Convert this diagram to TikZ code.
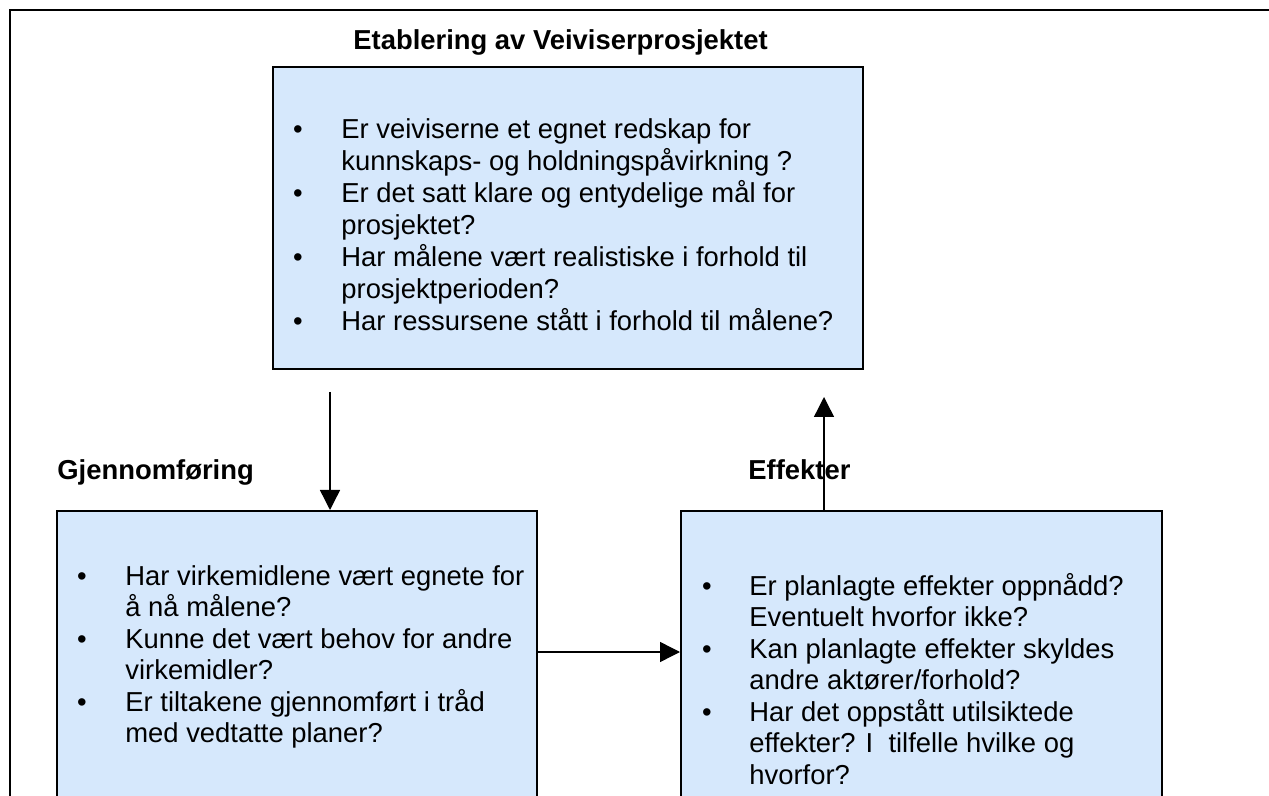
\documentclass[tikz,border=0pt]{standalone}
\usepackage{fontspec}
\setmainfont{Liberation Sans}
\usetikzlibrary{arrows.meta,calc}
\definecolor{boxblue}{RGB}{214,232,252}
\begin{document}
\begin{tikzpicture}[x=0.5pt,y=-0.5pt,
  frame/.style={line width=1pt,draw=black},
  qbox/.style={draw=black,line width=1pt,fill=boxblue,inner sep=0pt,anchor=north west},
  txt/.style={anchor=base west,inner sep=0pt,font=\fontsize{13.7}{16}\selectfont},
  hd/.style={anchor=base west,inner sep=0pt,font=\fontsize{13.7}{16}\selectfont\bfseries},
  bul/.style={anchor=base,inner sep=0pt,font=\fontsize{13.7}{16}\selectfont},
  arr/.style={line width=0.7pt,-{Triangle[length=10pt,width=10pt]}}]
\useasboundingbox (0,0) rectangle (1269,796);
\clip (0,0) rectangle (1269,796);
\fill[white] (0,0) rectangle (1269,796);
% outer frame
\draw[frame] (10,900) -- (10,10) -- (1400,10);
% boxes
\node[qbox,minimum width=295pt,minimum height=151pt] (etab) at (272,66) {};
\node[qbox,minimum width=240pt,minimum height=170pt] (gj) at (56,510) {};
\node[qbox,minimum width=240.5pt,minimum height=170pt] (ef) at (680,510) {};
% headings
\node[hd] (title) at (353,50) {Etablering av Veiviserprosjektet};
\node[hd] (gjlab) at (57,480) {Gjennomføring};
\node[hd] (eflab) at (748,480) {Effekter};
% top box text
\node[bul] (b1) at (298,139) {•};
\node[txt] (t1) at (341,139) {Er veiviserne et egnet redskap for};
\node[txt] (t2) at (341,171) {kunnskaps- og holdningspåvirkning ?};
\node[bul] (b2) at (298,203) {•};
\node[txt] (t3) at (341,203) {Er det satt klare og entydelige mål for};
\node[txt] (t4) at (341,235) {prosjektet?};
\node[bul] (b3) at (298,267) {•};
\node[txt] (t5) at (341,267) {Har målene vært realistiske i forhold til};
\node[txt] (t6) at (341,299) {prosjektperioden?};
\node[bul] (b4) at (298,331) {•};
\node[txt] (t7) at (341,331) {Har ressursene stått i forhold til målene?};
% left box text
\node[bul] (g1b) at (82,585) {•};
\node[txt] (g1) at (125,585) {Har virkemidlene vært egnete for};
\node[txt] (g2) at (125,616.5) {å nå målene?};
\node[bul] (g2b) at (82,648) {•};
\node[txt] (g3) at (125,648) {Kunne det vært behov for andre};
\node[txt] (g4) at (125,679.5) {virkemidler?};
\node[bul] (g3b) at (82,711) {•};
\node[txt] (g5) at (125,711) {Er tiltakene gjennomført i tråd};
\node[txt] (g6) at (125,742.5) {med vedtatte planer?};
% right box text
\node[bul] (e1b) at (707,595) {•};
\node[txt] (e1) at (749,595) {Er planlagte effekter oppnådd?};
\node[txt] (e2) at (749,626.5) {Eventuelt hvorfor ikke?};
\node[bul] (e2b) at (707,658) {•};
\node[txt] (e3) at (749,658) {Kan planlagte effekter skyldes};
\node[txt] (e4) at (749,689.5) {andre aktører/forhold?};
\node[bul] (e3b) at (707,721) {•};
\node[txt] (e5) at (749,721) {Har det oppstått utilsiktede};
\node[txt] (e6) at (749,752.5) {effekter? I\ \ tilfelle hvilke og};
\node[txt] (e7) at (749,784) {hvorfor?};
% connectors
\coordinate (dstart) at (330,392);
\draw[arr] (dstart) -- (dstart |- gj.north);
\coordinate (hy) at (0,652);
\draw[arr] (gj.east |- hy) -- (ef.west |- hy);
\coordinate (uend) at (824,397);
\draw[arr] (uend |- ef.north) -- (uend);
\end{tikzpicture}
\end{document}
